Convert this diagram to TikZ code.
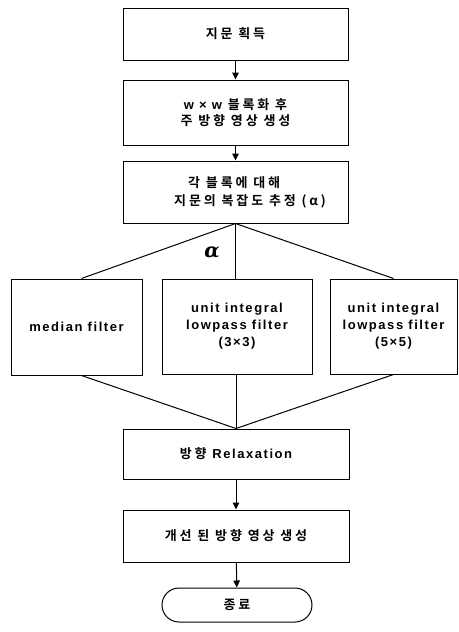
\documentclass[tikz,border=0pt]{standalone}
\usepackage{fontspec}
\usetikzlibrary{arrows.meta}
\newfontfamily\kr{Noto Sans CJK KR Bold}[LetterSpace=22]
\newfontfamily\lat{Liberation Sans Bold}[LetterSpace=12]
\newfontfamily\grk{DejaVu Serif}
\begin{document}
\begin{tikzpicture}[x=1pt,y=-1pt,
  box/.style={draw, line width=1pt, inner sep=0pt, align=center, font=\kr\fontsize{13}{16}\selectfont},
  fbox/.style={draw, line width=1pt, inner sep=0pt, align=center, font=\lat\fontsize{13}{17}\selectfont},
  conn/.style={line width=1pt},
  arr/.style={line width=1pt, -{Triangle[length=7pt,width=6.5pt]}}]
\useasboundingbox (0,0) rectangle (458,632);
\fill[white] (0,0) rectangle (458,632);
\node[box, minimum width=225pt, minimum height=52pt] (b1) at (235.5,34) {지문 획득};
\node[box, minimum width=225pt, minimum height=65pt] (b2) at (235.5,112.5) {{\lat w × w} 블록화 후\\주 방향 영상 생성};
\node[box, minimum width=225pt, minimum height=62pt] (b3) at (235.5,192) {};
\node[align=left, inner sep=0pt, font=\kr\fontsize{13}{18}\selectfont] (t3) at (250,192) {\hspace*{14pt}각 블록에 대해\\지문의 복잡도 추정 (α)};
\node[fbox, minimum width=131pt, minimum height=96pt] (f1) at (76.5,327) {median filter};
\node[fbox, minimum width=150pt, minimum height=95pt] (f2) at (237,326.5) {unit integral\\lowpass filter\\(3×3)};
\node[fbox, minimum width=127pt, minimum height=95pt] (f3) at (393.5,326.5) {unit integral\\lowpass filter\\(5×5)};
\node[box, minimum width=226pt, minimum height=50pt] (b4) at (236,454) {방향 {\lat Relaxation}};
\node[box, minimum width=226pt, minimum height=52pt] (b5) at (236,536) {개선 된 방향 영상 생성};
\node[box, rounded corners=17pt, minimum width=150pt, minimum height=34pt] (b6) at (237,605) {종료};
\node[inner sep=0pt, font=\grk\bfseries\itshape\fontsize{20}{20}\selectfont] (alpha) at (212,253) {α};
\draw[arr] (b1) -- (b2);
\draw[arr] (b2) -- (b3);
\draw[conn] (b3.south) -- ([xshift=5pt]f1.north);
\draw[conn] (b3.south) -- (b3.south |- f2.north);
\draw[conn] (b3.south) -- (f3.north);
\draw[conn] ([xshift=5pt]f1.south) -- (b4.north);
\draw[conn] (b4.north |- f2.south) -- (b4.north);
\draw[conn] (f3.south) -- (b4.north);
\draw[arr] (b4) -- (b5);
\draw[arr] (b5) -- (b6);
\end{tikzpicture}
\end{document}
